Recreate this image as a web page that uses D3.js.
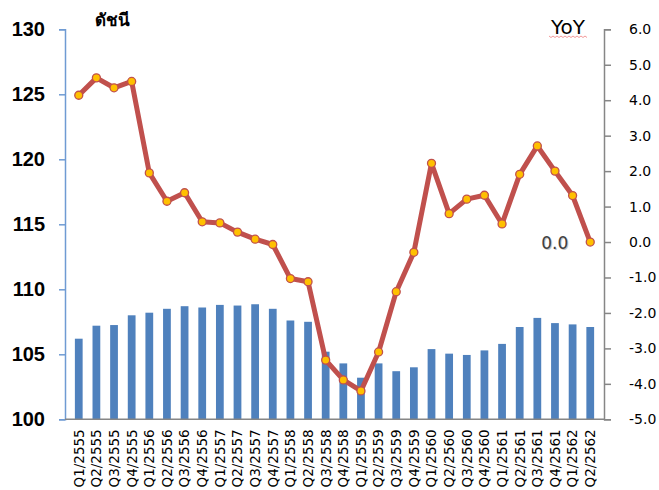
<!DOCTYPE html>
<html>
<head>
<meta charset="utf-8">
<script src="https://cdn.jsdelivr.net/npm/d3@7"></script>
<style>
  body { margin: 0; background: #fff; }
  svg { display: block; }
</style>
</head>
<body>
<div id="chart"></div>
<script>
// quarters (Thai years)
var quarters = ["Q1/2555","Q2/2555","Q3/2555","Q4/2555",
  "Q1/2556","Q2/2556","Q3/2556","Q4/2556",
  "Q1/2557","Q2/2557","Q3/2557","Q4/2557",
  "Q1/2558","Q2/2558","Q3/2558","Q4/2558",
  "Q1/2559","Q2/2559","Q3/2559","Q4/2559",
  "Q1/2560","Q2/2560","Q3/2560","Q4/2560",
  "Q1/2561","Q2/2561","Q3/2561","Q4/2561",
  "Q1/2562","Q2/2562"];

// index (bars, left axis)
var indexValues = [106.2,107.2,107.25,108.0,
  108.2,108.5,108.7,108.6,
  108.8,108.75,108.85,108.5,
  107.6,107.5,105.2,104.3,
  103.2,104.3,103.7,104.0,
  105.4,105.05,104.95,105.3,
  105.8,107.1,107.8,107.4,
  107.3,107.1];

// YoY % (line, right axis)
var yoyValues = [4.14,4.63,4.35,4.53,
  1.95,1.15,1.39,0.57,
  0.54,0.28,0.08,-0.07,
  -1.03,-1.12,-3.33,-3.89,
  -4.2,-3.1,-1.4,-0.29,
  2.22,0.8,1.21,1.32,
  0.51,1.91,2.71,2.0,
  1.31,0.0];

var leftTicks = [100,105,110,115,120,125,130];
var rightTicks = [-5,-4,-3,-2,-1,0,1,2,3,4,5,6];

var W = 659, H = 490;
var plotL = 65, plotR = 604, plotT = 29.3, plotB = 419.3;

var svg = d3.select("#chart").append("svg")
  .attr("width", W).attr("height", H);

var x = d3.scaleBand().domain(quarters).range([plotL, plotR]).padding(0.56);
var yL = d3.scaleLinear().domain([100,130]).range([plotB, plotT]);
var yR = d3.scaleLinear().domain([-5,6]).range([plotB, plotT]);

// bars
svg.append("g").selectAll("rect")
  .data(indexValues)
  .enter().append("rect")
  .attr("x", function(d, i) { return x(quarters[i]); })
  .attr("width", x.bandwidth())
  .attr("y", function(d) { return yL(d); })
  .attr("height", function(d) { return yL(100) - yL(d); })
  .attr("fill", "#4f81bd");

// left axis
var axL = svg.append("g").attr("transform", "translate(" + plotL + ",0)")
  .call(d3.axisLeft(yL).tickValues(leftTicks).tickSize(6).tickPadding(14));
axL.select(".domain").attr("stroke", "#6f9bd3").attr("stroke-width", 1.5);
axL.selectAll(".tick line").attr("stroke", "#6f9bd3").attr("stroke-width", 1.5);
axL.selectAll(".tick text")
  .attr("font-family", "'Liberation Sans', Arial, sans-serif")
  .attr("font-weight", "bold").attr("font-size", 20).attr("fill", "#000");

// right axis
var axR = svg.append("g").attr("transform", "translate(" + plotR + ",0)")
  .call(d3.axisRight(yR).tickValues(rightTicks).tickSize(7).tickPadding(18)
    .tickFormat(d3.format(".1f")));
axR.select(".domain").attr("stroke", "#868686").attr("stroke-width", 1.5);
axR.selectAll(".tick line").attr("stroke", "#868686").attr("stroke-width", 1.5);
axR.selectAll(".tick text")
  .attr("font-family", "'DejaVu Sans', Verdana, sans-serif")
  .attr("font-size", 14).attr("fill", "#000")
  .text(function(d) { return d3.format(".1f")(d).replace("−", "-"); });

// bottom axis
svg.append("line")
  .attr("x1", plotL).attr("x2", plotR)
  .attr("y1", plotB).attr("y2", plotB)
  .attr("stroke", "#868686").attr("stroke-width", 1.5);

svg.append("g").selectAll("text")
  .data(quarters)
  .enter().append("text")
  .attr("transform", function(d) {
    return "translate(" + (x(d) + x.bandwidth() / 2) + "," + (plotB + 10) + ") rotate(-90)";
  })
  .attr("dy", "0.36em")
  .attr("text-anchor", "end")
  .attr("font-family", "'DejaVu Sans', Verdana, sans-serif")
  .attr("font-size", 13.5)
  .attr("fill", "#000")
  .text(function(d) { return d; });

// YoY line
var line = d3.line()
  .x(function(d, i) { return x(quarters[i]) + x.bandwidth() / 2; })
  .y(function(d) { return yR(d); });

svg.append("path")
  .datum(yoyValues)
  .attr("d", line)
  .attr("fill", "none")
  .attr("stroke", "#c0504d")
  .attr("stroke-width", 5)
  .attr("stroke-linejoin", "round");

svg.append("g").selectAll("circle")
  .data(yoyValues)
  .enter().append("circle")
  .attr("cx", function(d, i) { return x(quarters[i]) + x.bandwidth() / 2; })
  .attr("cy", function(d) { return yR(d); })
  .attr("r", 4)
  .attr("fill", "#ffc000")
  .attr("stroke", "#c0504d")
  .attr("stroke-width", 1.3);

// last value label
var lastI = yoyValues.length - 1;
var lastX = x(quarters[lastI]) + x.bandwidth() / 2;
svg.append("text")
  .attr("x", lastX - 21).attr("y", yR(yoyValues[lastI]) + 8)
  .attr("text-anchor", "end")
  .attr("font-family", "'DejaVu Sans', Verdana, sans-serif")
  .attr("font-size", 17).attr("fill", "#c8c8c8")
  .text(d3.format(".1f")(yoyValues[lastI]));
svg.append("text")
  .attr("x", lastX - 22).attr("y", yR(yoyValues[lastI]) + 7)
  .attr("text-anchor", "end")
  .attr("font-family", "'DejaVu Sans', Verdana, sans-serif")
  .attr("font-size", 17).attr("fill", "#404040")
  .text(d3.format(".1f")(yoyValues[lastI]));

// axis titles
svg.append("text")
  .attr("x", 112).attr("y", 26)
  .attr("text-anchor", "middle")
  .attr("font-family", "'Noto Sans', 'DejaVu Sans', sans-serif")
  .attr("font-weight", "bold").attr("font-size", 17)
  .attr("fill", "#000")
  .text("ดัชนี");

svg.append("text")
  .attr("x", 568).attr("y", 34)
  .attr("text-anchor", "middle")
  .attr("font-family", "'DejaVu Sans', Verdana, sans-serif")
  .attr("font-size", 20).attr("fill", "#000")
  .text("YoY");

// spell-check squiggle under YoY
var sq = [];
for (var px = 549; px <= 588; px += 2) sq.push([px, (px % 4 === 1) ? 36 : 37.5]);
svg.append("path")
  .attr("d", d3.line()(sq))
  .attr("fill", "none").attr("stroke", "#f08080").attr("stroke-width", 0.8);
</script>
</body>
</html>
